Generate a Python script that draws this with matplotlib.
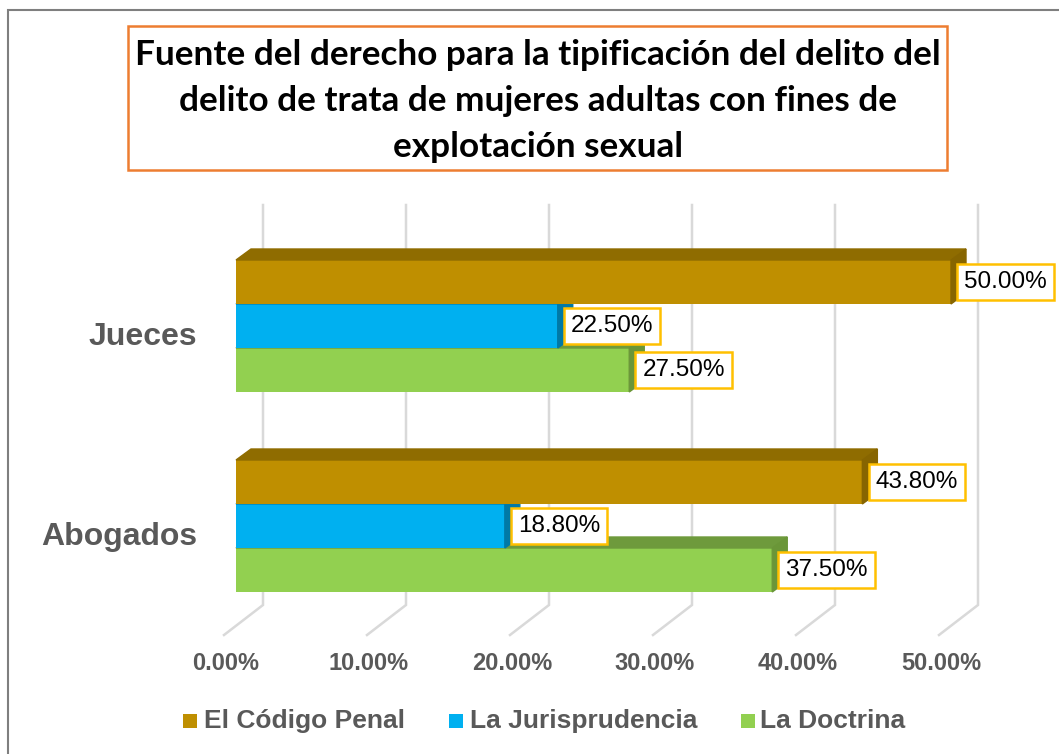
import matplotlib.pyplot as plt
from matplotlib.patches import Polygon, Rectangle

plt.rcParams['font.family'] = ['Liberation Sans', 'DejaVu Sans']

# data
categorias = ['Abogados', 'Jueces']
series = ['El Código Penal', 'La Jurisprudencia', 'La Doctrina']
codigo_penal = [43.8, 50.0]
jurisprudencia = [18.8, 22.5]
doctrina = [37.5, 27.5]
ticks = [0, 10, 20, 30, 40, 50]
tick_labels = ['0.00%', '10.00%', '20.00%', '30.00%', '40.00%', '50.00%']
titulo = ['Fuente del derecho para la tipificación del delito del',
          'delito de trata de mujeres adultas con fines de',
          'explotación sexual']

W, H = 1059, 754
PX_X = 14.3   # pixels per percent
PX_Y = 200.0  # pixels per category step
X0, Y0 = 236, 526  # pixel position of 0% / first category


def fx(px):
    return px / W


def fy(py):
    return 1 - py / H


fig = plt.figure(figsize=(W / 100, H / 100), dpi=100)
ax = fig.add_axes([0, 0, 1, 1])
ax.set_xlim(-X0 / PX_X, (W - X0) / PX_X)
ax.set_ylim((Y0 - H) / PX_Y, Y0 / PX_Y)
ax.axis('off')

# outer border of the chart area
fig.patches.append(Rectangle((fx(8), fy(800)), fx(1200), 790 / H, fill=False,
                             ec='#7F7F7F', lw=1.5, transform=fig.transFigure))

# 3d offsets
dx_bar, dy_bar = 15 / PX_X, 11 / PX_Y
dx_wall, dx_floor = 27 / PX_X, -12 / PX_X
y_top, y_wall, y_floor = (Y0 - 205) / PX_Y, (Y0 - 605) / PX_Y, (Y0 - 635) / PX_Y

# back wall gridlines + floor
for t in ticks:
    ax.plot([t + dx_wall, t + dx_wall, t + dx_floor], [y_top, y_wall, y_floor],
            color='#D9D9D9', lw=1.8, zorder=1, solid_joinstyle='miter')

h = 44 / PX_Y
estilos = [
    # values, offset, front, top, side, zorder
    (doctrina, -h, '#92D050', '#6E9A3C', '#6A9638', 3),
    (jurisprudencia, 0, '#00B0F0', '#0083B3', '#0079A6', 4),
    (codigo_penal, h, '#BF8F00', '#8F6C00', '#876500', 5),
]
pad_px = 7
for vals, off, c_front, c_top, c_side, z in estilos:
    ys = [i + off for i in range(len(categorias))]
    ax.barh(ys, vals, height=h, color=c_front, zorder=z)
    for yi, v in zip(ys, vals):
        yt, yb = yi + h / 2, yi - h / 2
        ax.add_patch(Polygon([(0, yt), (v, yt), (v + dx_bar, yt + dy_bar), (dx_bar, yt + dy_bar)],
                             closed=True, color=c_top, zorder=z))
        ax.add_patch(Polygon([(v, yb), (v, yt), (v + dx_bar, yt + dy_bar), (v + dx_bar, yb + dy_bar)],
                             closed=True, color=c_side, zorder=z))
        ax.text(v + (6 + pad_px) / PX_X, yi, f'{v:.2f}%', ha='left', va='center',
                fontsize=17.5, color='black', zorder=10,
                bbox=dict(boxstyle='square,pad=0.28', fc='white', ec='#FFC000', lw=1.8))

# category labels
for i, c in enumerate(categorias):
    ax.text((197 - X0) / PX_X, i - 11 / PX_Y, c, ha='right', va='center',
            fontsize=23, fontweight='bold', color='#595959')

# value axis labels
for t, lab in zip(ticks, tick_labels):
    ax.text(t + (226 - X0) / PX_X, (Y0 - 664) / PX_Y, lab, ha='center', va='center',
            fontsize=17, fontweight='bold', color='#595959')

# title box
fig.patches.append(Rectangle((fx(128), fy(170)), fx(947 - 128), (170 - 26) / H,
                             fc='white', ec='#ED7D31', lw=1.8, transform=fig.transFigure))
for line, base in zip(titulo, [65, 111, 157]):
    fig.text(fx(538), fy(base), line, ha='center', va='baseline',
             fontsize=25.3, fontweight='bold', family=['Lato', 'DejaVu Sans'], color='black')

# legend
colores = ['#BF8F00', '#00B0F0', '#92D050']
for name, col, mx, tx in zip(series, colores, [183, 449, 741], [204, 470, 760]):
    fig.patches.append(Rectangle((fx(mx), fy(728)), 14 / W, 14 / H, fc=col, ec='none',
                                 transform=fig.transFigure))
    fig.text(fx(tx), fy(721), name, ha='left', va='center',
             fontsize=19, fontweight='bold', color='#595959')

fig.savefig('out.png', dpi=100)
